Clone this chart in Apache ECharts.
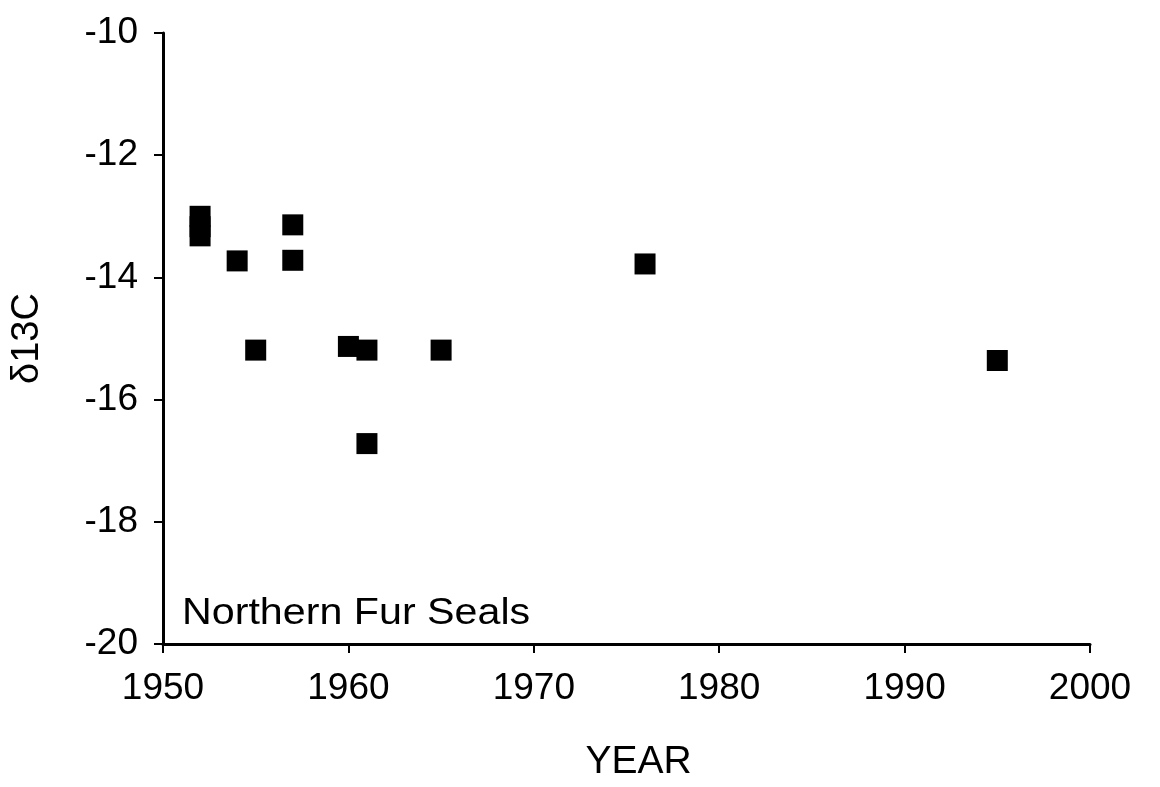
<!DOCTYPE html>
<html>
<head>
<meta charset="utf-8">
<script src="https://cdn.jsdelivr.net/npm/echarts@6/dist/echarts.min.js"></script>
<style>
  html, body { margin: 0; padding: 0; background: #fff; }
  #chart { width: 1160px; height: 787px; }
</style>
</head>
<body>
<div id="chart"></div>
<script>
// data
var years = [1952, 1952, 1952, 1954, 1955, 1957, 1957, 1960, 1961, 1961, 1965, 1976, 1995];
var d13c  = [-13.0, -13.17, -13.32, -13.73, -15.19, -13.14, -13.72, -15.13, -15.19, -16.72, -15.19, -13.78, -15.36];

var chart = echarts.init(document.getElementById('chart'));

var points = years.map(function (y, i) { return [y, d13c[i]]; });

var font = 'Liberation Sans, Arial, sans-serif';

chart.setOption({
    backgroundColor: '#fff',
    animation: false,
    grid: { left: 163, right: 70, top: 33, bottom: 139 },
    xAxis: {
        type: 'value',
        min: 1950, max: 2000, interval: 10,
        name: 'YEAR',
        nameLocation: 'middle',
        nameGap: 99,
        nameTextStyle: { color: '#000', fontSize: 39, fontFamily: font, padding: [0, 0, 0, 24] },
        axisLine: { show: true, lineStyle: { color: '#000', width: 3 } },
        axisTick: { show: true, inside: false, length: 9, lineStyle: { color: '#000', width: 2 } },
        axisLabel: {
            color: '#000', fontSize: 37, fontFamily: font, margin: 26,
            formatter: function (v) { return String(v); }
        },
        splitLine: { show: false }
    },
    yAxis: {
        type: 'value',
        min: -20, max: -10, interval: 2,
        name: 'δ13C',
        nameLocation: 'middle',
        nameGap: 116,
        nameRotate: 90,
        nameTextStyle: { color: '#000', fontSize: 38, fontFamily: font },
        axisLine: { show: true, onZero: false, lineStyle: { color: '#000', width: 3 } },
        axisTick: { show: true, inside: false, length: 9, lineStyle: { color: '#000', width: 2 } },
        axisLabel: { color: '#000', fontSize: 37, fontFamily: font, margin: 25 },
        splitLine: { show: false }
    },
    graphic: [{
        type: 'text',
        x: 182,
        y: 596,
        scaleX: 1.145,
        style: { text: 'Northern Fur Seals', fill: '#000', fontSize: 36, fontFamily: font, verticalAlign: 'top' }
    }],
    series: [{
        type: 'scatter',
        data: points,
        symbol: 'rect',
        symbolSize: 21,
        itemStyle: { color: '#000', opacity: 1 }
    }]
});
</script>
</body>
</html>
